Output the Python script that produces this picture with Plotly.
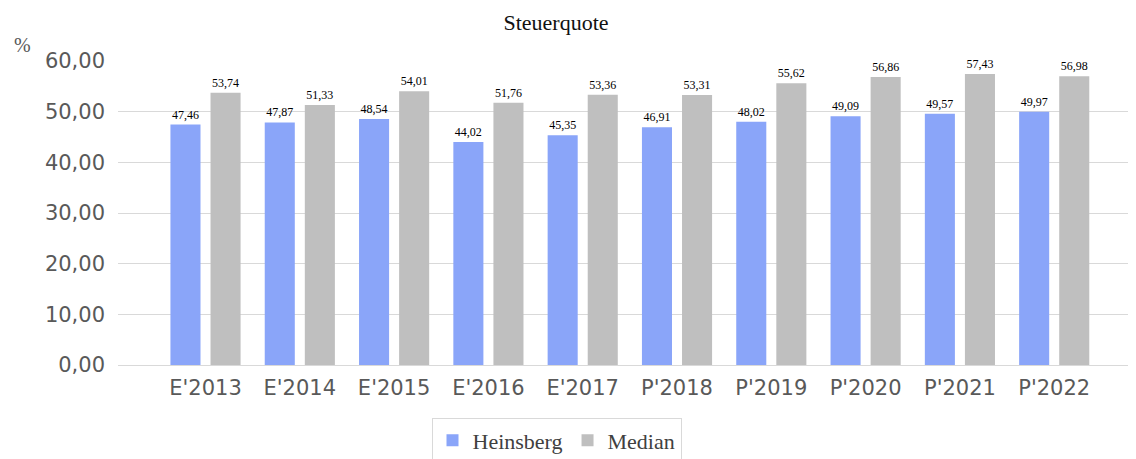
import plotly.graph_objects as go

categories = ["E'2013", "E'2014", "E'2015", "E'2016", "E'2017",
              "P'2018", "P'2019", "P'2020", "P'2021", "P'2022"]
heinsberg = [47.46, 47.87, 48.54, 44.02, 45.35, 46.91, 48.02, 49.09, 49.57, 49.97]
median = [53.74, 51.33, 54.01, 51.76, 53.36, 53.31, 55.62, 56.86, 57.43, 56.98]
y_ticks = [0, 10, 20, 30, 40, 50, 60]

# page body has an 8px margin; figure is placed at (8, 8)
OFF = 8
W, H = 1136 - OFF, 459 - OFF
L, R, T = 118 - OFF, 0, 61 - OFF
B = H - (365.5 - OFF)
plot_h = H - T - B
plot_w = W - L - R

def px_x(sx):
    return (sx - OFF - L) / plot_w

def px_y(sy):
    return (H - B - (sy - OFF)) / plot_h

serif = "Liberation Serif, Times New Roman, serif"
sans = "DejaVu Sans, Verdana, sans-serif"

fig = go.Figure()
for name, vals, col in [("Heinsberg", heinsberg, "#8aa5f9"), ("Median", median, "#bfbfbf")]:
    fig.add_trace(go.Bar(
        x=categories, y=vals, name=name,
        marker=dict(color=col, line=dict(width=0)),
        texttemplate="%{y:.2f}", textposition="outside", textangle=0,
        textfont=dict(family=serif, size=12, color="#000000"),
        cliponaxis=False,
    ))

fig.update_layout(
    width=W, height=H,
    margin=dict(l=L, r=R, t=T, b=B, autoexpand=False),
    paper_bgcolor="white", plot_bgcolor="white",
    separators=",.",
    barmode="group", bargap=0.15, bargroupgap=0.25,
    title=dict(text="Steuerquote", x=(556 - OFF) / W, xanchor="center",
               y=1 - (22 - OFF) / H, yanchor="middle",
               font=dict(family=serif, size=22, color="#111111")),
    showlegend=True,
    legend=dict(orientation="h", x=px_x(556.5), xanchor="center",
                y=px_y(419), yanchor="top",
                bordercolor="#d9d9d9", borderwidth=1,
                font=dict(family=serif, size=22, color="#404040"),
                itemwidth=30, traceorder="normal"),
    xaxis=dict(range=[-0.928, -0.928 + plot_w / 94.3], showgrid=False,
               showline=False, zeroline=False, ticks="",
               tickfont=dict(family=sans, size=21, color="#595959"),
               ticklabelstandoff=8),
    yaxis=dict(range=[0, 60], tickvals=y_ticks, tickformat=".2f",
               showgrid=True, gridcolor="#d9d9d9", gridwidth=1,
               zeroline=True, zerolinecolor="#d9d9d9", zerolinewidth=1,
               showline=False, ticks="",
               tickfont=dict(family=sans, size=21, color="#595959"),
               ticklabelstandoff=12),
    annotations=[dict(text="%", xref="paper", yref="paper",
                      x=px_x(22), y=px_y(45),
                      xanchor="center", yanchor="middle", showarrow=False,
                      font=dict(family=serif, size=20, color="#595959"))],
)

fig.write_html("out.html")
